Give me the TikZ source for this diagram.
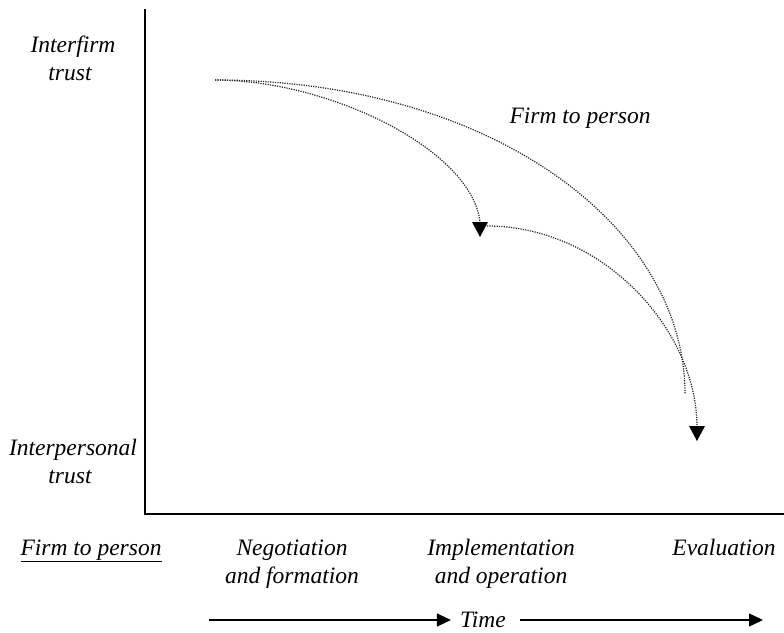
\documentclass[tikz,border=0pt]{standalone}
\usepackage{fontspec}
\setmainfont{Liberation Serif}
\usetikzlibrary{arrows.meta}
\begin{document}
\begin{tikzpicture}[x=1pt,y=-1pt,
  lbl/.style={font=\fontsize{23.5}{28}\selectfont\itshape, inner sep=0pt, anchor=base},
  axisline/.style={line width=1.5pt, black},
  trustpath/.style={line width=1.2pt, black!85, dash pattern=on 1.2pt off 1.2pt},
  timearrow/.style={line width=1.3pt, -{Triangle[width=13pt,length=14pt]}}]
\useasboundingbox (0,0) rectangle (784,632);

% axes
\coordinate (ytop) at (145,9);
\coordinate (origin) at (145,514);
\coordinate (xend) at (784,514);
\draw[axisline] (ytop) -- (origin) -- (xend);

% vertical axis labels
\node[lbl] (if1) at (73,52) {Interfirm};
\node[lbl] (if2) at (70,80) {trust};
\node[lbl] (ip1) at (73,455) {Interpersonal};
\node[lbl] (ip2) at (70,483) {trust};

% phase labels
\node[lbl] (ftp) at (91,555) {\underline{Firm to person}};
\node[lbl] (neg1) at (292,555) {Negotiation};
\node[lbl] (neg2) at (292,583) {and formation};
\node[lbl] (imp1) at (501,555) {Implementation};
\node[lbl] (imp2) at (501,583) {and operation};
\node[lbl] (eva) at (724,555) {Evaluation};

% curve label
\node[lbl] (curvelbl) at (580,123) {Firm to person};

% time arrow
\node[lbl] (time) at (483,627) {Time};
\coordinate (tl) at (209,620);
\coordinate (tr) at (763,620);
\draw[timearrow] (tl) -- ([xshift=-9pt]time.west |- tl);
\draw[timearrow] ([xshift=14pt]time.east |- tl) -- (tr);

% trust transfer paths
\coordinate (start) at (215,80);
\coordinate (mid) at (480,237);
\coordinate (midout) at (487,226);
\coordinate (bigend) at (685,394);
\coordinate (low) at (697,441);

\draw[trustpath] (start) .. controls (330,80) and (472,150) .. (480,222);
\draw[trustpath] (start) .. controls (490,80) and (685,225) .. (bigend);
\draw[trustpath] (midout) .. controls (603,226) and (697,330) .. (697,427);
\fill (472,222) -- (488,222) -- (mid) -- cycle;
\fill (689,426) -- (705,426) -- (low) -- cycle;
\end{tikzpicture}
\end{document}
